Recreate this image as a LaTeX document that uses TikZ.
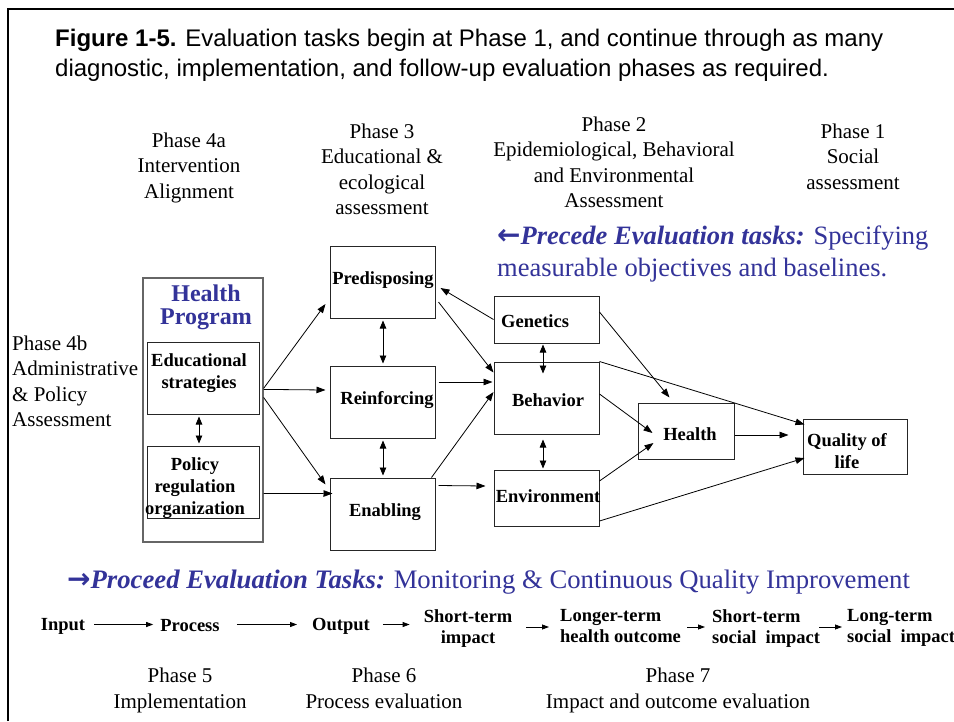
\documentclass[tikz,border=0pt]{standalone}
\usepackage{fontspec}
\setmainfont{Liberation Serif}
\newfontfamily\arialf{Liberation Sans}
\newfontfamily\djv{DejaVu Sans}
\usetikzlibrary{arrows.meta,calc}
\definecolor{navy}{RGB}{51,51,153}
\begin{document}
\begin{tikzpicture}[x=1pt,y=-1pt,
  box/.style={draw=black!85,line width=1pt,inner sep=0pt,minimum width=105pt},
  outerbox/.style={draw=black!60,line width=1.2pt,inner sep=0pt},
  arr/.style={-{Triangle[length=9pt,width=6.5pt]},line width=0.8pt},
  dbl/.style={{Triangle[length=8pt,width=6.5pt]}-{Triangle[length=8pt,width=6.5pt]},line width=0.8pt},
  sarr/.style={-{Triangle[length=7pt,width=5pt]},line width=0.8pt},
  struts/.style={execute at begin node=\strut,execute at end node=\strut},
  ntxt/.style={font=\fontsize{18.5}{22}\selectfont\bfseries,align=center,inner sep=0pt},
  rtxt/.style={font=\fontsize{18.5}{21}\selectfont\bfseries,align=center,inner sep=0pt},
  phase/.style={font=\fontsize{21}{25.5}\selectfont,align=center,inner sep=0pt,struts}]
\useasboundingbox (0,0) rectangle (954,721);
\fill[white] (0,0) rectangle (954,721);
% frame
\draw[line width=2pt] (8,721) -- (8,9) -- (954,9);
% title
\node[anchor=north west,font=\arialf\fontsize{24}{30}\selectfont,align=left,inner sep=0pt] (title) at (55,28.5)
  {\textbf{Figure 1-5.} Evaluation tasks begin at Phase 1, and continue through as many\\diagnostic, implementation, and follow-up evaluation phases as required.};
% phase headings
\node[phase] (ph4a) at (189,169.5) {Phase 4a\\Intervention\\Alignment};
\node[phase] (ph3) at (382,173) {Phase 3\\Educational \&\\ecological\\assessment};
\node[phase] (ph2) at (614,166) {Phase 2\\Epidemiological, Behavioral\\and Environmental\\Assessment};
\node[phase] (ph1) at (853,160.4) {Phase 1\\Social\\assessment};
\node[phase,anchor=west,align=left] (ph4b) at (12,385) {Phase 4b\\Administrative\\\& Policy\\Assessment};
% precede text
\node[anchor=west,align=left,inner sep=0pt,text=navy,font=\fontsize{26.5}{32}\selectfont] (precede) at (497,254)
  {{\djv\bfseries\fontsize{28}{32}\selectfont ←}\textbf{\textit{Precede Evaluation tasks:}} Specifying\\measurable objectives and baselines.};
% boxes
\node[outerbox,minimum width=120pt,minimum height=264pt] (hp) at (203,410) {};
\node[box,minimum width=112pt,minimum height=72pt] (edu) at (203,378) {};
\node[box,minimum width=112pt,minimum height=72pt] (pol) at (203,482) {};
\node[box,minimum height=72pt] (pred) at (382.5,282) {};
\node[box,minimum height=72pt] (reinf) at (382.5,402) {};
\node[box,minimum height=72pt] (enab) at (382.5,514) {};
\node[box,minimum height=47pt] (gen) at (546.5,319.5) {};
\node[box,minimum height=72pt] (beh) at (546.5,398) {};
\node[box,minimum height=56pt] (env) at (546.5,498) {};
\node[box,minimum width=96pt,minimum height=56pt] (hea) at (686,431) {};
\node[box,minimum width=104pt,minimum height=55pt] (qol) at (855,446.5) {};
% box texts
\node[align=center,inner sep=0pt,text=navy,font=\fontsize{24}{23}\selectfont\bfseries] (hpt) at (206,307) {Health\\Program};
\node[ntxt] (edut) at (199,373) {Educational\\strategies};
\node[ntxt] (polt) at (195,488) {Policy\\regulation\\organization};
\node[ntxt] (predt) at (383,280) {Predisposing};
\node[ntxt] (reinft) at (387,400) {Reinforcing};
\node[ntxt,anchor=west] (gent) at (501,321) {Genetics};
\node[ntxt] (beht) at (548,400) {Behavior};
\node[ntxt] (envt) at (548,496) {Environment};
\node[ntxt] (enabt) at (385,512) {Enabling};
\node[ntxt] (heat) at (690,434) {Health};
\node[ntxt] (qolt) at (847,451) {Quality of\\life};
% connectors
\draw[arr] ($(hp.north east)+(0,111)$) -- ($(pred.west)+(-4,22)$);
\draw[arr] ($(hp.north east)+(0,112)$) -- ($(reinf.west)+(-4,-12)$);
\draw[arr] ($(hp.north east)+(0,120)$) -- ($(enab.north west)+(-4,7)$);
\draw[arr] ($(hp.north east)+(0,216)$) -- ($(enab.north west)+(3,16)$);
\draw[dbl] ($(edu.south)+(-4,2)$) -- ($(pol.north)+(-4,-2)$);
\draw[dbl] ($(pred.south)+(0.5,2)$) -- ($(reinf.north)+(0.5,-2)$);
\draw[dbl] ($(reinf.south)+(0.5,2)$) -- ($(enab.north)+(0.5,-2)$);
\draw[arr] (gen.west) -- ($(pred.east)+(5,6)$);
\draw[arr] ($(pred.east)+(3,20)$) -- ($(beh.north west)+(0,11)$);
\draw[arr] ($(reinf.east)+(3,-20)$) -- ($(beh.west)+(-1,-16)$);
\draw[arr] ($(enab.north east)+(-4,0)$) -- ($(beh.west)+(0,-6)$);
\draw[arr] ($(enab.north east)+(3,8)$) -- ($(env.west)+(-8,-12)$);
\draw[dbl] ($(gen.south)+(-3.5,1)$) -- ($(beh.north)+(-3.5,12)$);
\draw[dbl] ($(beh.south)+(-3.5,5)$) -- ($(env.north)+(-3.5,-1)$);
\draw[arr] ($(gen.east)+(0,-7.5)$) -- ($(hea.north west)+(32,-5)$);
\draw[arr] (beh.north east) -- ($(qol.north west)+(2,6)$);
\draw[arr] ($(beh.east)+(0,-4)$) -- ($(hea.west)+(15,2)$);
\draw[arr] ($(env.east)+(0,-17)$) -- ($(hea.west)+(16,12)$);
\draw[arr] ($(hea.east)+(0,4)$) -- ($(qol.west)+(-14,-11.5)$);
\draw[arr] ($(env.east)+(0,23)$) -- ($(qol.west)+(2,11.5)$);
% proceed text
\node[anchor=west,inner sep=0pt,text=navy,font=\fontsize{26.7}{32}\selectfont] (proceed) at (67,582)
  {{\djv\bfseries\fontsize{28}{32}\selectfont →}\textbf{\textit{Proceed Evaluation Tasks:}} Monitoring \& Continuous Quality Improvement};
% bottom row
\node[rtxt] (in) at (63,626) {Input};
\node[rtxt] (proc) at (190,626) {Process};
\node[rtxt] (out) at (341,626) {Output};
\node[rtxt,struts] (sti) at (468,629.3) {Short-term\\impact};
\node[rtxt,struts,anchor=west,align=left] (lth) at (560,629.3) {Longer-term\\health outcome};
\node[rtxt,struts,anchor=west,align=left] (ssi) at (712,629.3) {Short-term\\social~ impact};
\node[rtxt,struts,anchor=west,align=left] (lsi) at (847,629.3) {Long-term\\social~ impact};
\draw[sarr] ([xshift=9pt,yshift=1.5pt]in.east) -- ([xshift=-7pt,yshift=1.5pt]proc.west);
\draw[sarr] ([xshift=17pt,yshift=1.5pt]proc.east) -- ([xshift=-15pt,yshift=1.5pt]out.west);
\draw[sarr] ([xshift=13pt,yshift=1.5pt]out.east) -- ([xshift=-14pt,yshift=1.5pt]out.east -| sti.west);
\draw[sarr] ([xshift=14pt,yshift=2.3pt]sti.east) -- ([xshift=-11pt,yshift=2.3pt]sti.east -| lth.west);
\draw[sarr] ([xshift=6pt,yshift=2.3pt]lth.east) -- ([xshift=-7pt,yshift=2.3pt]lth.east -| ssi.west);
\draw[sarr] ([xshift=-1pt,yshift=2.3pt]ssi.east) -- ([xshift=-5pt,yshift=2.3pt]ssi.east -| lsi.west);
% bottom phases
\node[phase] (ph5) at (180,692) {Phase 5\\Implementation};
\node[phase] (ph6) at (384,692) {Phase 6\\Process evaluation};
\node[phase] (ph7) at (678,692) {Phase 7\\Impact and outcome evaluation};
\end{tikzpicture}
\end{document}
